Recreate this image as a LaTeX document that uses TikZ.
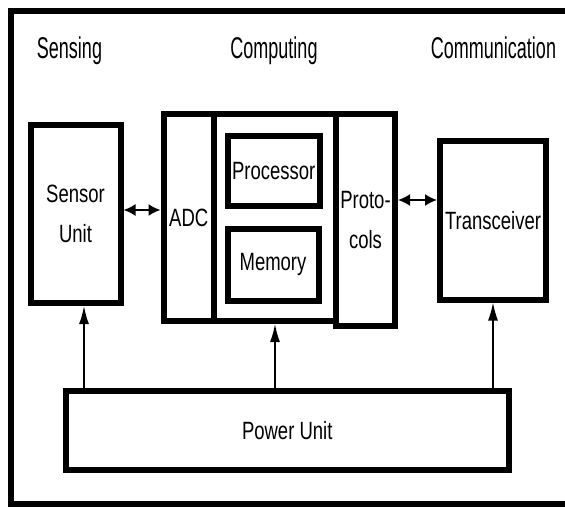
\documentclass[tikz,border=0pt]{standalone}
\usepackage{fontspec}
\setmainfont{Liberation Sans}
\newfontfamily\headfont[FakeStretch=0.6]{Liberation Sans}
\newfontfamily\bodyfont[FakeStretch=0.74]{Liberation Sans}
\usetikzlibrary{arrows.meta}
\begin{document}
\begin{tikzpicture}[x=1pt,y=-1pt,
  box/.style={draw, line width=6pt, inner sep=0pt, align=center,
    font=\bodyfont\fontsize{25}{40}\selectfont},
  head/.style={font=\headfont\fontsize{30}{36}\selectfont, anchor=base, inner sep=0pt},
  pa/.style={line width=1.6pt, -{Latex[length=18pt,width=10pt]}},
  da/.style={line width=1.8pt, {Latex[length=12pt,width=12pt]}-{Latex[length=12pt,width=12pt]}}]
\clip (0,0) rectangle (565,508);
\draw[line width=6pt] (600,11) -- (10.5,11) -- (10.5,503.5) -- (600,503.5);
% headings
\node[head] (hs) at (69.5,59) {Sensing};
\node[head] (hc) at (274,59) {Computing};
\node[head] (hm) at (493.5,59) {Communication};
% boxes
\node[box, minimum width=90pt, minimum height=178pt] (sensor) at (75.5,214) {Sensor\\Unit};
\node[box, minimum width=50.5pt, minimum height=207pt] (adc) at (188.75,217.5) {ADC};
\node[box, minimum width=122pt, minimum height=207pt] (comp) at (275,217.5) {};
\node[box, minimum width=59pt, minimum height=212pt] (proto) at (365.5,220) {Proto-\\cols};
\node[box, minimum width=92.5pt, minimum height=70pt] (proc) at (273.75,171) {Processor};
\node[box, minimum width=91pt, minimum height=71.5pt] (mem) at (273,264.75) {Memory};
\node[box, minimum width=106pt, minimum height=158.5pt] (trans) at (493,220.25) {Transceiver};
\node[box, minimum width=443.5pt, minimum height=79.5pt] (power) at (287.25,430.25) {Power Unit};
% power arrows
\coordinate (s1) at ([xshift=8.5pt]sensor.south);
\draw[pa] (s1 |- power.north) -- (s1);
\draw[pa] (comp.south |- power.north) -- (comp.south);
\draw[pa] (trans.south |- power.north) -- (trans.south);
% double arrows
\coordinate (d1) at ([yshift=4pt]sensor.east);
\draw[da] (d1) -- (d1 -| adc.west);
\coordinate (d2) at ([yshift=20pt]proto.east);
\draw[da] (d2) -- (d2 -| trans.west);
\end{tikzpicture}
\end{document}
